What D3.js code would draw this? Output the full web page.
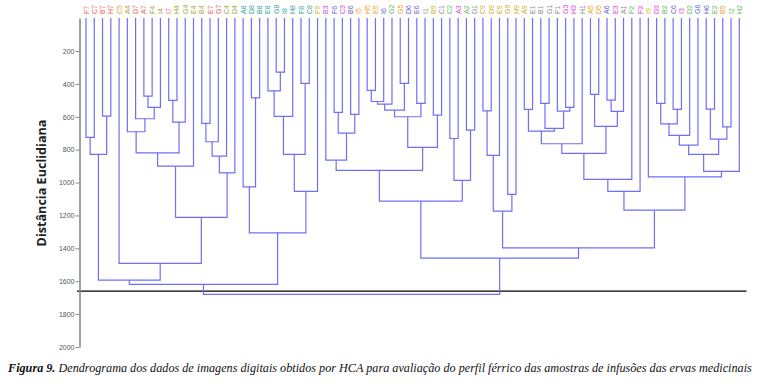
<!DOCTYPE html>
<html>
<head>
<meta charset="utf-8">
<script src="https://cdn.jsdelivr.net/npm/d3@7"></script>
<style>
  body { margin: 0; background: #fff; }
  svg { display: block; }
</style>
</head>
<body>
<div id="chart"></div>
<script>
// leaf samples, left to right
var leafLabels = [
  "F7","C7","B7","H7","C5","A4","D7","A7","F4","I4","I7","H4","G4","E4","B4","E7","G7","C4","D4",
  "A8","D8","B8","E8","G8","I8","H8","F8","C8",
  "F9","B3","F6","C3","B6","I5","H5","E5","I6","G2","G5","D6","E6","I1","B9","C1","C2","A3","A2","D1",
  "C9","D9","E9","G9","H9","A9","E1","B1","G1","F1","G3","H3","H1","A5","D5","A6","E3","A1","F2","F3",
  "I9","D3","B2","C6","I3","D2","G6","H6","E2","B5","I2","H2"
];

// linkage: [left, right, distance]; index < 80 is a leaf, else merge row (index - 80)
var merges = [
  [0, 1, 725], [2, 3, 596], [80, 81, 829],
  [7, 8, 474], [83, 9, 543], [6, 84, 612], [5, 85, 691],
  [10, 11, 500], [87, 12, 632], [86, 88, 819], [89, 13, 900],
  [14, 15, 640], [91, 16, 752], [92, 17, 839], [93, 18, 941],
  [90, 94, 1212], [4, 95, 1492], [82, 96, 1593],
  [20, 21, 485], [19, 98, 1026],
  [23, 24, 328], [22, 100, 442], [101, 25, 598], [26, 27, 397],
  [102, 103, 829], [104, 28, 1054], [99, 105, 1306], [97, 106, 1619],
  [30, 31, 573], [32, 33, 586], [108, 109, 699], [29, 110, 864],
  [34, 35, 440], [112, 36, 507], [113, 37, 523], [38, 39, 397],
  [114, 115, 559], [40, 41, 519], [116, 117, 600], [42, 43, 590],
  [118, 119, 786], [111, 120, 926],
  [44, 45, 732], [46, 47, 681], [122, 123, 987], [121, 124, 1113],
  [48, 49, 564], [126, 50, 835], [51, 52, 1072], [127, 128, 1174],
  [53, 54, 555], [55, 56, 519], [58, 59, 543], [57, 132, 566],
  [131, 133, 671], [130, 134, 687], [135, 60, 764],
  [61, 62, 464], [63, 64, 499], [138, 65, 567], [137, 139, 659],
  [136, 140, 823], [141, 66, 981], [142, 67, 1054],
  [69, 70, 519], [71, 72, 555], [144, 145, 643], [146, 73, 713], [147, 74, 772],
  [75, 76, 553], [77, 78, 661], [149, 150, 736], [148, 151, 829],
  [152, 79, 932], [68, 153, 965], [143, 154, 1168],
  [129, 155, 1397], [125, 156, 1459], [107, 157, 1680]
];

var yTicks = [200, 400, 600, 800, 1000, 1200, 1400, 1600, 1800, 2000];
var cutHeight = 1660;

// label colour by sample number
var groupNums = ["1","2","3","4","5","6","7","8","9"];
var groupColors = ["#8c8c96","#5fbb62","#e43fd8","#aaa83a","#f3a229","#6868cf","#f0625b","#34a89c","#c9b12a"];

var width = 762, height = 388;
var svg = d3.select("#chart").append("svg")
    .attr("width", width)
    .attr("height", height);

var n = leafLabels.length;
var x = d3.scaleLinear().domain([0, n - 1]).range([86, 739.3]);
var y = d3.scaleLinear().domain([0, 2000]).range([18.1, 347]);
var color = d3.scaleOrdinal().domain(groupNums).range(groupColors);

// node positions
var nodeX = leafLabels.map(function(d, i) { return x(i); });
var nodeH = leafLabels.map(function() { return 0; });
merges.forEach(function(m) {
  nodeX.push((nodeX[m[0]] + nodeX[m[1]]) / 2);
  nodeH.push(m[2]);
});

// cut line
svg.append("line")
    .attr("x1", 77).attr("x2", 746.5)
    .attr("y1", y(cutHeight)).attr("y2", y(cutHeight))
    .attr("stroke", "#000")
    .attr("stroke-width", 1.2);

// elbows
svg.append("g")
  .selectAll("path")
  .data(merges)
  .enter()
    .append("path")
    .attr("fill", "none")
    .attr("stroke", "#6f6ff6")
    .attr("stroke-width", 1.2)
    .attr("d", function(m) {
      var a = m[0], b = m[1];
      return "M" + nodeX[a] + "," + y(nodeH[a]) +
             "V" + y(m[2]) +
             "H" + nodeX[b] +
             "V" + y(nodeH[b]);
    });

// leaf labels
svg.append("g")
  .selectAll("text")
  .data(leafLabels)
  .enter()
    .append("text")
    .attr("transform", function(d, i) {
      return "translate(" + (x(i) + 2.5) + ",14) rotate(-90)";
    })
    .attr("font-family", "Liberation Sans, Arial, sans-serif")
    .attr("font-size", 7)
    .attr("fill", function(d) { return color(d.slice(1)); })
    .text(function(d) { return d; });

// y axis
var axis = svg.append("g")
    .attr("transform", "translate(79.5,0)")
    .call(d3.axisLeft(y).tickValues(yTicks).tickSize(4).tickSizeOuter(0).tickFormat(d3.format("d")));
axis.select(".domain").attr("stroke", "#8a8a8a").attr("stroke-width", 1.6);
axis.selectAll(".tick line").attr("stroke", "#8a8a8a");
axis.selectAll(".tick text")
    .attr("font-family", "Liberation Sans, Arial, sans-serif")
    .attr("font-size", 7)
    .attr("fill", "#555")
    .attr("x", -5);

svg.append("text")
    .attr("transform", "translate(46,183) rotate(-90)")
    .attr("text-anchor", "middle")
    .attr("font-family", "Open Sans, sans-serif")
    .attr("font-weight", "bold")
    .attr("font-size", 12.6)
    .attr("fill", "#222")
    .text("Distância Euclidiana");

// caption
var cap = svg.append("text")
    .attr("x", 8).attr("y", 372)
    .attr("font-family", "Liberation Serif, Times New Roman, serif")
    .attr("font-style", "italic")
    .attr("font-size", 12.2)
    .attr("fill", "#111");
cap.append("tspan").attr("font-weight", "bold").text("Figura 9.");
cap.append("tspan").text(" Dendrograma dos dados de imagens digitais obtidos por HCA para avaliação do perfil férrico das amostras de infusões das ervas medicinais");
</script>
</body>
</html>
